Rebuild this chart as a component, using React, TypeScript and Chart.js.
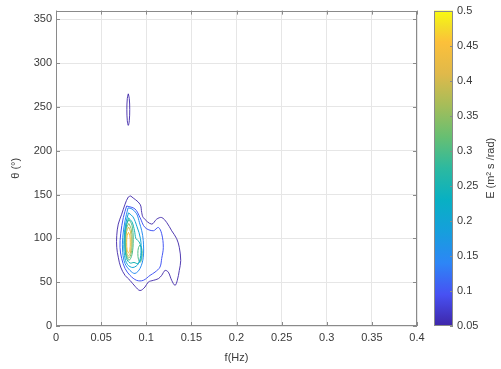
import React, { useEffect, useRef } from 'react';
import { Chart, registerables } from 'chart.js';

Chart.register(...registerables);

// ---------- axis ticks ----------
const xTicks = [0, 0.05, 0.1, 0.15, 0.2, 0.25, 0.3, 0.35, 0.4];
const xTickLabels = ['0', '0.05', '0.1', '0.15', '0.2', '0.25', '0.3', '0.35', '0.4'];
const yTicks = [0, 50, 100, 150, 200, 250, 300, 350];
const yTickLabels = ['0', '50', '100', '150', '200', '250', '300', '350'];
const cbTicks = [0.05, 0.1, 0.15, 0.2, 0.25, 0.3, 0.35, 0.4, 0.45, 0.5];
const cbTickLabels = ['0.05', '0.1', '0.15', '0.2', '0.25', '0.3', '0.35', '0.4', '0.45', '0.5'];

// ---------- contour lines, [f (Hz), theta (deg)] ----------
const c005Main: [number, number][] = [
  [0.0828, 148.4], [0.0931, 139], [0.095, 129.4], [0.0967, 123.8], [0.106, 116.3],
  [0.1116, 122], [0.1171, 123.8], [0.1227, 118.1], [0.1282, 108.7], [0.1337, 99.7],
  [0.1366, 89.8], [0.1382, 74.7], [0.1366, 63.4], [0.1344, 52.1], [0.1319, 46.4],
  [0.1282, 52.1], [0.1244, 61.5], [0.1208, 63.4], [0.1171, 57.8], [0.1134, 54],
  [0.1078, 52.1], [0.1023, 50.2], [0.0986, 44.5], [0.0931, 40.5], [0.0875, 45.4],
  [0.082, 52.1], [0.0765, 57.8], [0.0717, 67.2], [0.069, 78.5], [0.0673, 89.8],
  [0.0673, 103.1], [0.069, 116.3], [0.0728, 127.6], [0.0765, 139], [0.0801, 147.2],
  [0.0828, 148.4],
];
const c005Small: [number, number][] = [
  [0.0801, 265], [0.0812, 259.7], [0.0817, 247], [0.0812, 234.3], [0.0801, 229],
  [0.079, 234.3], [0.0785, 247], [0.079, 259.7], [0.0801, 265],
];
const c010: [number, number][] = [
  [0.0783, 137], [0.0875, 133.6], [0.0931, 123.8], [0.0986, 112.5], [0.1078, 108.7],
  [0.1134, 112.5], [0.1171, 105.3], [0.1189, 89.8], [0.1171, 77], [0.1152, 67.2],
  [0.1097, 61.5], [0.1042, 57.8], [0.0967, 52.1], [0.0894, 52.1], [0.082, 57.8],
  [0.0765, 65.7], [0.0728, 77], [0.0709, 89.8], [0.0717, 105.3], [0.0746, 123.8],
  [0.0783, 137],
];
const c015: [number, number][] = [
  [0.0798, 134.8], [0.0842, 133.6], [0.0894, 128], [0.0925, 117.8], [0.095, 108.7],
  [0.0967, 97.4], [0.0967, 78.5], [0.0931, 65.7], [0.0875, 60], [0.082, 63.4],
  [0.0765, 71.3], [0.0739, 84.1], [0.0739, 101.1], [0.0765, 120], [0.0798, 134.8],
];
const c020: [number, number][] = [
  [0.0803, 129.1], [0.0853, 124.6], [0.0898, 113.2], [0.0936, 99.7], [0.0942, 83.8],
  [0.0914, 71.3], [0.0853, 66.8], [0.0792, 70.2], [0.0759, 80.4], [0.0753, 97.4],
  [0.077, 115.5], [0.0803, 129.1],
];
const c025: [number, number][] = [
  [0.0803, 123.4], [0.0842, 118.9], [0.087, 108.7], [0.0886, 99.7], [0.092, 96.3],
  [0.0942, 89.5], [0.0942, 77], [0.0909, 71.3], [0.0864, 72.5], [0.082, 71.9],
  [0.0781, 77], [0.0765, 90.6], [0.077, 108.7], [0.0803, 123.4],
];
const c030Left: [number, number][] = [
  [0.0809, 121.5], [0.0842, 115], [0.0856, 98.5], [0.0842, 81.5], [0.0809, 75],
  [0.0776, 81.5], [0.0762, 98.5], [0.0776, 115], [0.0809, 121.5],
];
const c030Right: [number, number][] = [
  [0.0931, 92.5], [0.0948, 89.5], [0.0955, 82.7], [0.0948, 75.8], [0.0931, 72.5],
  [0.0914, 75.8], [0.0907, 82.7], [0.0914, 89.5], [0.0931, 92.5],
];
const c035: [number, number][] = [
  [0.0806, 117], [0.0833, 111], [0.0844, 97], [0.0833, 83], [0.0806, 77.5],
  [0.0779, 83], [0.0768, 97], [0.0779, 111], [0.0806, 117],
];
const c040: [number, number][] = [
  [0.0804, 113], [0.0826, 107.5], [0.0834, 96], [0.0826, 84.5], [0.0804, 80],
  [0.0782, 84.5], [0.0774, 96], [0.0782, 107.5], [0.0804, 113],
];
const c045: [number, number][] = [
  [0.0803, 107], [0.0818, 103], [0.0823, 95], [0.0818, 87], [0.0803, 83.5],
  [0.0788, 87], [0.0783, 95], [0.0788, 103], [0.0803, 107],
];

const contourLevels = [0.05, 0.05, 0.1, 0.15, 0.2, 0.25, 0.3, 0.3, 0.35, 0.4, 0.45];
const contourLines = [c005Main, c005Small, c010, c015, c020, c025, c030Left, c030Right, c035, c040, c045];

const cMin = 0.05;
const cMax = 0.5;

// ---------- parula-like colormap (style) ----------
const parulaStops: [number, string][] = [
  [0.0, '#3e26a8'],
  [0.1, '#4751f3'],
  [0.2, '#2d86f6'],
  [0.3, '#169fdc'],
  [0.4, '#08b0c3'],
  [0.5, '#2cb9a0'],
  [0.6, '#67bf72'],
  [0.7, '#a6bd59'],
  [0.8, '#e0b94a'],
  [0.9, '#fcc03a'],
  [0.95, '#f4de28'],
  [1.0, '#f9fb0e'],
];

function hexToRgb(h: string) {
  return [parseInt(h.slice(1, 3), 16), parseInt(h.slice(3, 5), 16), parseInt(h.slice(5, 7), 16)];
}
function colorAt(t: number) {
  t = Math.max(0, Math.min(1, t));
  for (let i = 0; i < parulaStops.length - 1; i++) {
    const [t0, c0] = parulaStops[i];
    const [t1, c1] = parulaStops[i + 1];
    if (t >= t0 && t <= t1) {
      const a = (t - t0) / (t1 - t0);
      const r0 = hexToRgb(c0);
      const r1 = hexToRgb(c1);
      const r = r0.map((v, k) => Math.round(v + (r1[k] - v) * a));
      return `rgb(${r[0]},${r[1]},${r[2]})`;
    }
  }
  return parulaStops[parulaStops.length - 1][1];
}

const FONT = '"Liberation Sans", Arial, Helvetica, sans-serif';
const TEXT = '#3a3a3a';
const AXIS = '#8a8a8a';
const GRID = '#e6e6e6';

const boxPlugin = {
  id: 'boxPlugin',
  afterDraw(chart: any) {
    const { ctx, chartArea: a, scales } = chart;
    ctx.save();
    ctx.strokeStyle = AXIS;
    ctx.lineWidth = 1;
    ctx.strokeRect(Math.round(a.left) + 0.5, Math.round(a.top) + 0.5, Math.round(a.right - a.left) - 1, Math.round(a.bottom - a.top) - 1);
    const tl = 4;
    ctx.beginPath();
    xTicks.forEach((v) => {
      const px = Math.round(scales.x.getPixelForValue(v)) + 0.5;
      ctx.moveTo(px, a.bottom); ctx.lineTo(px, a.bottom - tl);
      ctx.moveTo(px, a.top); ctx.lineTo(px, a.top + tl);
    });
    yTicks.forEach((v) => {
      const py = Math.round(scales.y.getPixelForValue(v)) + 0.5;
      ctx.moveTo(a.left, py); ctx.lineTo(a.left + tl, py);
      ctx.moveTo(a.right, py); ctx.lineTo(a.right - tl, py);
    });
    ctx.stroke();
    ctx.restore();
  },
};

const cbPlugin = {
  id: 'cbPlugin',
  afterDraw(chart: any) {
    const { ctx, chartArea: a, scales } = chart;
    ctx.save();
    ctx.strokeStyle = AXIS;
    ctx.lineWidth = 1;
    ctx.strokeRect(Math.round(a.left) + 0.5, Math.round(a.top) + 0.5, Math.round(a.right - a.left) - 1, Math.round(a.bottom - a.top) - 1);
    ctx.beginPath();
    cbTicks.forEach((v) => {
      const py = Math.round(scales.y.getPixelForValue(v)) + 0.5;
      ctx.moveTo(a.right, py); ctx.lineTo(a.right - 3, py);
    });
    ctx.stroke();
    ctx.translate(61, (a.top + a.bottom) / 2);
    ctx.rotate(-Math.PI / 2);
    ctx.fillStyle = TEXT;
    ctx.font = `11px ${FONT}`;
    ctx.textAlign = 'center';
    ctx.textBaseline = 'middle';
    ctx.fillText('E (m² s /rad)', 0, 0);
    ctx.restore();
  },
};

export default function App() {
  const mainRef = useRef<HTMLCanvasElement>(null);
  const cbRef = useRef<HTMLCanvasElement>(null);

  useEffect(() => {
    const datasets = contourLines.map((pts, i) => ({
      data: pts.map(([x, y]) => ({ x, y })),
      showLine: true,
      pointRadius: 0,
      borderColor: colorAt((contourLevels[i] - cMin) / (cMax - cMin)),
      borderWidth: contourLevels[i] <= 0.05 ? 0.9 : 1,
      tension: 0.35,
      fill: false,
    }));

    const main = new Chart(mainRef.current!, {
      type: 'scatter',
      data: { datasets },
      options: {
        animation: false,
        responsive: false,
        maintainAspectRatio: false,
        layout: { padding: { left: 0, top: 7, right: 13, bottom: 0 } },
        plugins: { legend: { display: false }, tooltip: { enabled: false } },
        scales: {
          x: {
            type: 'linear',
            min: 0,
            max: 0.4,
            afterBuildTicks: (s: any) => { s.ticks = xTicks.map((v) => ({ value: v })); },
            afterFit: (s: any) => { s.height = 43; },
            ticks: {
              autoSkip: false,
              maxRotation: 0,
              padding: 5,
              color: TEXT,
              font: { family: FONT, size: 11 },
              callback: (v: any) => xTickLabels[xTicks.findIndex((t) => Math.abs(t - v) < 1e-9)],
            },
            grid: { color: GRID, drawTicks: false },
            border: { display: false },
            title: { display: true, text: 'f(Hz)', color: TEXT, font: { family: FONT, size: 11 }, padding: { top: 0, bottom: 4 } },
          },
          y: {
            type: 'linear',
            min: 0,
            max: 360,
            afterBuildTicks: (s: any) => { s.ticks = yTicks.map((v) => ({ value: v })); },
            afterFit: (s: any) => { s.width = 56; },
            ticks: {
              autoSkip: false,
              padding: 4,
              color: TEXT,
              font: { family: FONT, size: 11 },
              callback: (v: any) => yTickLabels[yTicks.indexOf(v)],
            },
            grid: { color: GRID, drawTicks: false },
            border: { display: false },
            title: { display: true, text: 'θ (°)', color: TEXT, font: { family: FONT, size: 11 }, padding: { top: 9, bottom: 0 } },
          },
        },
      },
      plugins: [boxPlugin],
    } as any);

    const cb = new Chart(cbRef.current!, {
      type: 'bar',
      data: {
        labels: ['E'],
        datasets: [{
          data: [[cMin, cMax]] as any,
          barPercentage: 1,
          categoryPercentage: 1,
          borderWidth: 0,
          backgroundColor: (c: any) => {
            const a = c.chart.chartArea;
            if (!a) return '#3e26a8';
            const g = c.chart.ctx.createLinearGradient(0, a.bottom, 0, a.top);
            parulaStops.forEach(([t, col]) => g.addColorStop(t, col));
            return g;
          },
        }],
      },
      options: {
        animation: false,
        responsive: false,
        maintainAspectRatio: false,
        layout: { padding: { left: 4, top: 7, right: 0, bottom: 43 } },
        plugins: { legend: { display: false }, tooltip: { enabled: false } },
        scales: {
          x: { display: false },
          y: {
            position: 'right',
            min: cMin,
            max: cMax,
            afterBuildTicks: (s: any) => { s.ticks = cbTicks.map((v) => ({ value: v })); },
            afterFit: (s: any) => { s.width = 48; },
            ticks: {
              autoSkip: false,
              padding: 4,
              color: TEXT,
              font: { family: FONT, size: 11 },
              callback: (v: any) => cbTickLabels[cbTicks.findIndex((t) => Math.abs(t - v) < 1e-9)],
            },
            grid: { display: false, drawTicks: false },
            border: { display: false },
          },
        },
      },
      plugins: [cbPlugin],
    } as any);

    return () => {
      main.destroy();
      cb.destroy();
    };
  }, []);

  return (
    <div style={{ position: 'absolute', left: 0, top: 0, width: 501, height: 369, background: '#fff' }}>
      <canvas ref={mainRef} width={430} height={369} style={{ position: 'absolute', left: 0, top: 0, width: 430, height: 369 }} />
      <canvas ref={cbRef} width={71} height={369} style={{ position: 'absolute', left: 430, top: 0, width: 71, height: 369 }} />
    </div>
  );
}
